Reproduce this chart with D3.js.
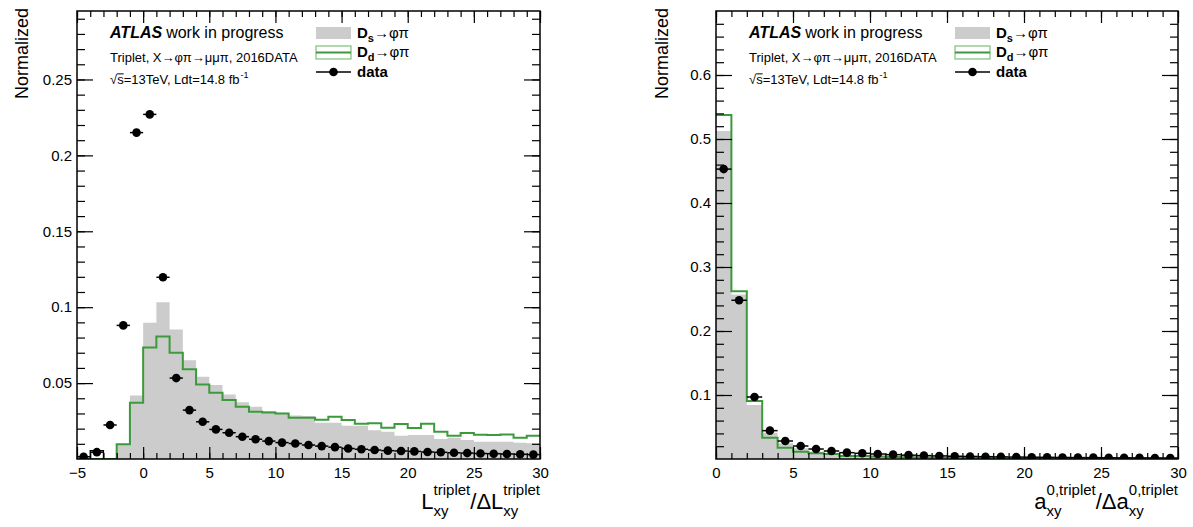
<!DOCTYPE html>
<html>
<head>
<meta charset="utf-8">
<script src="https://cdn.jsdelivr.net/npm/d3@7"></script>
<style>
  body { margin: 0; background: #fff; }
  svg { display: block; }
  text { font-family: "Liberation Sans", Arial, Helvetica, sans-serif; fill: #000; }
</style>
</head>
<body>
<svg id="chart" width="1193" height="527"></svg>
<script>
// ---------------- data ----------------
// Left: Lxy/ΔLxy of the triplet, unit-width bins from -5 to 30
const lxyLow = -5, lxyHigh = 30;
const lxyDs = [0, 0, 0, 0.0097, 0.0419, 0.0897, 0.1033, 0.0853, 0.0651, 0.0542,
  0.0487, 0.0425, 0.0373, 0.0344, 0.0316, 0.0305, 0.0287, 0.0283, 0.0239, 0.0239,
  0.0219, 0.0219, 0.0190, 0.0180, 0.0153, 0.0158, 0.0158, 0.0132, 0.0140, 0.0125,
  0.0114, 0.0114, 0.0114, 0.0107, 0.0103];
const lxyDd = [0, 0, 0, 0.0097, 0.0370, 0.0735, 0.0807, 0.0700, 0.0592, 0.0491,
  0.0436, 0.0388, 0.0344, 0.0311, 0.0307, 0.0300, 0.0272, 0.0272, 0.0259, 0.0279,
  0.0257, 0.0232, 0.0235, 0.0206, 0.0230, 0.0204, 0.0232, 0.0180, 0.0153, 0.0171,
  0.0160, 0.0158, 0.0162, 0.0140, 0.0153];
const lxyData = [0.0015, 0.0045, 0.0224, 0.0880, 0.2150, 0.2270, 0.1197, 0.0533, 0.0322, 0.0245,
  0.0195, 0.0173, 0.0147, 0.0130, 0.0118, 0.0108, 0.0102, 0.0092, 0.0085, 0.0078,
  0.0069, 0.0064, 0.0059, 0.0055, 0.0053, 0.0050, 0.0046, 0.0044, 0.0041, 0.0039,
  0.0036, 0.0035, 0.0033, 0.0031, 0.0029];
// small outlined step in the negative tail (bin -4..-3)
const lxyTailStep = [{ lo: -4, hi: -3, v: 0.0055 }];

// Right: a0xy/Δa0xy of the triplet, unit-width bins from 0 to 30
const a0Low = 0, a0High = 30;
const a0Ds = [0.5125, 0.2570, 0.0844, 0.0411, 0.0245, 0.0167, 0.0115, 0.0089, 0.0068, 0.0060,
  0.0047, 0.0040, 0.0034, 0.0030, 0.0026, 0.0023, 0.0020, 0.0018, 0.0016, 0.0014,
  0.0013, 0.0012, 0.0011, 0.0010, 0.0009, 0.0008, 0.0008, 0.0007, 0.0007, 0.0006];
const a0Dd = [0.5375, 0.2620, 0.0906, 0.0333, 0.0177, 0.0115, 0.0089, 0.0080, 0.0047, 0.0047,
  0.0040, 0.0032, 0.0028, 0.0024, 0.0020, 0.0018, 0.0016, 0.0014, 0.0012, 0.0011,
  0.0010, 0.0009, 0.0008, 0.0008, 0.0007, 0.0006, 0.0006, 0.0005, 0.0005, 0.0005];
const a0Data = [0.4530, 0.2480, 0.0969, 0.0443, 0.0281, 0.0203, 0.0156, 0.0125, 0.0099, 0.0089,
  0.0078, 0.0068, 0.0060, 0.0053, 0.0048, 0.0043, 0.0040, 0.0036, 0.0033, 0.0030,
  0.0028, 0.0026, 0.0024, 0.0022, 0.0021, 0.0019, 0.0018, 0.0017, 0.0016, 0.0015];

// tick values and labels
const lxyXTicks = [-5, 0, 5, 10, 15, 20, 25, 30];
const lxyXLabels = ["\u22125", "0", "5", "10", "15", "20", "25", "30"];
const lxyYTicks = [0.05, 0.1, 0.15, 0.2, 0.25];
const lxyYLabels = ["0.05", "0.1", "0.15", "0.2", "0.25"];
const a0XTicks = [0, 5, 10, 15, 20, 25, 30];
const a0XLabels = ["0", "5", "10", "15", "20", "25", "30"];
const a0YTicks = [0.1, 0.2, 0.3, 0.4, 0.5, 0.6];
const a0YLabels = ["0.1", "0.2", "0.3", "0.4", "0.5", "0.6"];

const COL_DS = "#cccccc";
const COL_DD = "#3c9a3c";

const svg = d3.select("#chart");

function binsOf(values, low) {
  return values.map((v, i) => ({ lo: low + i, hi: low + i + 1, v }));
}

function richText(g, x, y, parts, anchor) {
  // parts: {t, size, weight, style} or {sub, sup, size}
  const grp = g.append("g");
  let cx = 0;
  parts.forEach(p => {
    if (p.t !== undefined) {
      const t = grp.append("text").attr("x", cx).attr("y", p.dy || 0)
        .style("font-size", p.size + "px")
        .style("font-weight", p.weight || "normal")
        .style("font-style", p.style || "normal")
        .text(p.t);
      const w = t.node().getComputedTextLength();
      if (p.overline) {
        grp.append("line").attr("x1", cx).attr("x2", cx + w)
          .attr("y1", -p.size * 0.78).attr("y2", -p.size * 0.78)
          .attr("stroke", "#000").attr("stroke-width", 1);
      }
      cx += w + (p.gap || 0);
    } else {
      let w = 0;
      if (p.sup) {
        const t = grp.append("text").attr("x", cx).attr("y", p.supDy)
          .style("font-size", p.size + "px").style("font-weight", p.weight || "normal").text(p.sup);
        w = Math.max(w, t.node().getComputedTextLength());
      }
      if (p.sub) {
        const t = grp.append("text").attr("x", cx).attr("y", p.subDy)
          .style("font-size", p.size + "px").style("font-weight", p.weight || "normal").text(p.sub);
        w = Math.max(w, t.node().getComputedTextLength());
      }
      cx += w + (p.gap || 0);
    }
  });
  const shift = anchor === "end" ? -cx : 0;
  grp.attr("transform", `translate(${x + shift},${y})`);
  return grp;
}

function drawPanel(cfg) {
  const { left, right, top, bottom } = cfg.frame;
  const x = d3.scaleLinear().domain(cfg.xDomain).range([left, right]);
  const y = d3.scaleLinear().domain(cfg.yDomain).range([bottom, top]);
  const g = svg.append("g");

  const clipId = "clip" + cfg.id;
  svg.append("clipPath").attr("id", clipId)
    .append("rect").attr("x", left).attr("y", top).attr("width", right - left).attr("height", bottom - top);
  const plot = g.append("g").attr("clip-path", `url(#${clipId})`);

  const stepPts = bins => bins.flatMap(b => [[b.lo, b.v], [b.hi, b.v]]);

  // Ds → φπ, filled grey
  const area = d3.area().x(d => x(d[0])).y0(y(0)).y1(d => y(d[1]));
  plot.append("path").datum(stepPts(binsOf(cfg.ds, cfg.xDomain[0])))
    .attr("d", area).attr("fill", COL_DS).attr("stroke", "none");

  // Dd → φπ, green outline
  const line = d3.line().x(d => x(d[0])).y(d => y(d[1]));
  plot.append("path").datum(stepPts(binsOf(cfg.dd, cfg.xDomain[0])))
    .attr("d", line).attr("fill", "none").attr("stroke", COL_DD).attr("stroke-width", 2);

  if (cfg.extraStep) {
    cfg.extraStep.forEach(b => {
      plot.append("path")
        .attr("d", line([[b.lo, 0], [b.lo, b.v], [b.hi, b.v], [b.hi, 0]]))
        .attr("fill", "none").attr("stroke", "#000").attr("stroke-width", 1.3);
    });
  }

  // data with horizontal bin-width error bars
  const dataBins = binsOf(cfg.data, cfg.xDomain[0]);
  plot.selectAll("line.err").data(dataBins).enter().append("line")
    .attr("x1", d => x(d.lo)).attr("x2", d => x(d.hi))
    .attr("y1", d => y(d.v)).attr("y2", d => y(d.v))
    .attr("stroke", "#000").attr("stroke-width", 1.5);
  plot.selectAll("circle.pt").data(dataBins).enter().append("circle")
    .attr("cx", d => x((d.lo + d.hi) / 2)).attr("cy", d => y(d.v)).attr("r", 4.3).attr("fill", "#000");

  // axes with inward ticks
  const xMinor = d3.range(cfg.xDomain[0], cfg.xDomain[1] + 0.001, 1);
  const yMinor = d3.range(cfg.yMinorStep, cfg.yDomain[1], cfg.yMinorStep);

  const axB = g.append("g").attr("transform", `translate(0,${bottom})`)
    .call(d3.axisBottom(x).tickValues(xMinor).tickSize(-6).tickSizeOuter(0).tickFormat(""));
  const axBM = g.append("g").attr("transform", `translate(0,${bottom})`)
    .call(d3.axisBottom(x).tickValues(cfg.xTicks).tickSize(-12).tickSizeOuter(0).tickPadding(8)
      .tickFormat((d, i) => cfg.xLabels[i]));
  const axT = g.append("g").attr("transform", `translate(0,${top})`)
    .call(d3.axisTop(x).tickValues(xMinor).tickSize(-6).tickSizeOuter(0).tickFormat(""));
  const axTM = g.append("g").attr("transform", `translate(0,${top})`)
    .call(d3.axisTop(x).tickValues(cfg.xTicks).tickSize(-12).tickSizeOuter(0).tickFormat(""));
  const axL = g.append("g").attr("transform", `translate(${left},0)`)
    .call(d3.axisLeft(y).tickValues(yMinor).tickSize(-8).tickSizeOuter(0).tickFormat(""));
  const axLM = g.append("g").attr("transform", `translate(${left},0)`)
    .call(d3.axisLeft(y).tickValues(cfg.yTicks).tickSize(-16).tickSizeOuter(0).tickPadding(5)
      .tickFormat((d, i) => cfg.yLabels[i]));
  const axR = g.append("g").attr("transform", `translate(${right},0)`)
    .call(d3.axisRight(y).tickValues(yMinor).tickSize(-8).tickSizeOuter(0).tickFormat(""));
  const axRM = g.append("g").attr("transform", `translate(${right},0)`)
    .call(d3.axisRight(y).tickValues(cfg.yTicks).tickSize(-16).tickSizeOuter(0).tickFormat(""));
  [axB, axBM, axT, axTM, axL, axLM, axR, axRM].forEach(a => {
    a.select(".domain").remove();
    a.selectAll("line").attr("stroke", "#000").attr("stroke-width", 1.2);
    a.selectAll("text").style("font-size", "15px").style("font-family", null).attr("fill", "#000");
  });

  // frame
  g.append("rect").attr("x", left).attr("y", top).attr("width", right - left).attr("height", bottom - top)
    .attr("fill", "none").attr("stroke", "#000").attr("stroke-width", 1.5);

  // y title
  g.append("text").attr("transform", `translate(${cfg.yTitleX},${top - 3}) rotate(-90)`)
    .attr("text-anchor", "end").style("font-size", "18px").text("Normalized");

  // x title
  richText(g, right, 509, cfg.xTitle, "end");

  // header text
  const tx = left + 33;
  richText(g, tx, 38, [
    { t: "ATLAS", size: 16, weight: "bold", style: "italic", gap: 4 },
    { t: "work in progress", size: 16 }
  ]);
  g.append("text").attr("x", tx).attr("y", 62).style("font-size", "13px")
    .text("Triplet, X\u2192\u03c6\u03c0\u2192\u03bc\u03bc\u03c0, 2016DATA");
  richText(g, tx, 84, [
    { t: "\u221a", size: 13 },
    { t: "s", size: 13, overline: true },
    { t: "=13TeV, Ldt=14.8 fb", size: 13, gap: 1 },
    { sup: "-1", supDy: -6, size: 9 }
  ]);

  // legend
  const lx = left + 239, lw = 35, ltx = lx + 41;
  g.append("rect").attr("x", lx).attr("y", 27).attr("width", lw).attr("height", 12).attr("fill", COL_DS);
  richText(g, ltx, 38, [
    { t: "D", size: 15, weight: "bold" },
    { sub: "s", subDy: 4, size: 11, weight: "bold" },
    { t: "\u2192\u03c6\u03c0", size: 15 }
  ]);
  g.append("rect").attr("x", lx).attr("y", 46).attr("width", lw).attr("height", 13)
    .attr("fill", "none").attr("stroke", "#7cc07c").attr("stroke-width", 1.2);
  g.append("line").attr("x1", lx).attr("x2", lx + lw).attr("y1", 52.5).attr("y2", 52.5)
    .attr("stroke", COL_DD).attr("stroke-width", 2);
  richText(g, ltx, 57, [
    { t: "D", size: 15, weight: "bold" },
    { sub: "d", subDy: 4, size: 11, weight: "bold" },
    { t: "\u2192\u03c6\u03c0", size: 15 }
  ]);
  g.append("line").attr("x1", lx).attr("x2", lx + lw).attr("y1", 72).attr("y2", 72)
    .attr("stroke", "#000").attr("stroke-width", 1.5);
  g.append("circle").attr("cx", lx + lw / 2).attr("cy", 72).attr("r", 4.3).attr("fill", "#000");
  g.append("text").attr("x", ltx).attr("y", 77).style("font-size", "15px").style("font-weight", "bold").text("data");
}

drawPanel({
  id: "L",
  frame: { left: 77, right: 540, top: 11, bottom: 459 },
  xDomain: [lxyLow, lxyHigh], yDomain: [0, 0.2951], yMinorStep: 0.01,
  ds: lxyDs, dd: lxyDd, data: lxyData, extraStep: lxyTailStep,
  xTicks: lxyXTicks, xLabels: lxyXLabels, yTicks: lxyYTicks, yLabels: lxyYLabels,
  yTitleX: 28,
  xTitle: [
    { t: "L", size: 22 },
    { sub: "xy", subDy: 7, sup: "triplet", supDy: -14, size: 15 },
    { t: "/\u0394L", size: 22 },
    { sub: "xy", subDy: 7, sup: "triplet", supDy: -14, size: 15 }
  ]
});

drawPanel({
  id: "R",
  frame: { left: 716, right: 1178, top: 11, bottom: 459 },
  xDomain: [a0Low, a0High], yDomain: [0, 0.7], yMinorStep: 0.02,
  ds: a0Ds, dd: a0Dd, data: a0Data,
  xTicks: a0XTicks, xLabels: a0XLabels, yTicks: a0YTicks, yLabels: a0YLabels,
  yTitleX: 668,
  xTitle: [
    { t: "a", size: 22 },
    { sub: "xy", subDy: 7, sup: "0,triplet", supDy: -14, size: 15 },
    { t: "/\u0394a", size: 22 },
    { sub: "xy", subDy: 7, sup: "0,triplet", supDy: -14, size: 15 }
  ]
});
</script>
</body>
</html>
